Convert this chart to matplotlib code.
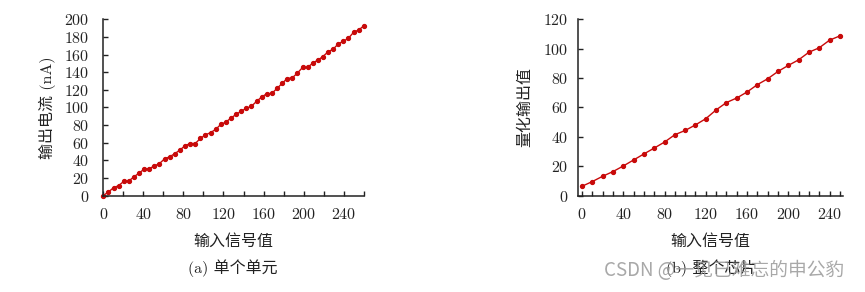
import matplotlib
matplotlib.use("Agg")
import matplotlib.pyplot as plt
from matplotlib.ticker import MultipleLocator

# ---- data ----
x_left = [round(i * 5.1, 1) for i in range(52)]
y_left = [0, 4, 8.8, 11.2, 16, 16.5, 21.2, 25.4, 30, 30.5,
          33.5, 36.3, 41.6, 44, 47.5, 51.6, 56.5, 59, 59, 64.8,
          68.8, 71.4, 75, 80.7, 83.3, 88, 92, 95.7, 99, 101.3,
          106.8, 111.8, 115.5, 115.9, 121.5, 127.2, 132.8, 133.6, 138.9, 145.3,
          145.3, 150.3, 153.7, 157.7, 163.1, 166.1, 172.1, 175.1, 178.5, 185.3,
          187.9, 192.5]

x_right = [0, 10, 20, 30, 40, 50, 60, 70, 80, 90, 100, 110, 120,
           130, 140, 150, 160, 170, 180, 190, 200, 210, 220, 230, 240, 250]
y_right = [6.3, 9.5, 13.1, 16.3, 20.1, 24.2, 28.3, 32.3, 36.4, 41.4, 44.3, 48.1, 52.3,
           58.3, 63.3, 66.4, 70.5, 75.5, 79.5, 84.5, 88.6, 92.4, 97.6, 100.6, 105.8, 108.7]

xlabel = "输入信号值"
ylabel_left = "输出电流 (nA)"
ylabel_right = "量化输出值"
caption_left = "(a) 单个单元"
caption_right = "(b) 整个芯片"
watermark = "CSDN @一见已难忘的申公豹"

FAM = ['cmr10', 'Noto Sans CJK SC', 'DejaVu Serif']
plt.rcParams['font.family'] = FAM
plt.rcParams['axes.formatter.use_mathtext'] = True

RED = '#c80a0a'
fig = plt.figure(figsize=(8.65, 2.92), dpi=100)

ax1 = fig.add_axes([103.3 / 865, (292 - 195.5) / 292, 260.4 / 865, 176.2 / 292])
ax2 = fig.add_axes([578 / 865, (292 - 195.5) / 292, 265 / 865, 176.2 / 292])

def style(ax, xmaj, xmin, ymaj, ypad):
    for s in ['top', 'right']:
        ax.spines[s].set_visible(False)
    for s in ['left', 'bottom']:
        ax.spines[s].set_linewidth(1.1)
        ax.spines[s].set_color('#222222')
    ax.xaxis.set_major_locator(MultipleLocator(xmaj))
    ax.xaxis.set_minor_locator(MultipleLocator(xmin))
    ax.yaxis.set_major_locator(MultipleLocator(ymaj))
    ax.tick_params(which='both', direction='in', length=3.5, width=1.0,
                   labelsize=11.5, color='#222222', labelcolor='#222222')
    ax.tick_params(axis='x', pad=8)
    ax.tick_params(axis='y', pad=ypad)

ax1.plot(x_left, y_left, '-o', color=RED, lw=1.0, ms=2.8, clip_on=False)
ax1.set_xlim(0, 260)
ax1.set_ylim(0, 200)
style(ax1, 40, 20, 20, 10)
ax1.set_xlabel(xlabel, fontsize=11.5, labelpad=9, color='#222222')
ax1.set_ylabel(ylabel_left, fontsize=11.5, labelpad=6, color='#222222')

ax2.plot(x_right, y_right, '-o', color=RED, lw=1.0, ms=2.8, clip_on=False)
ax2.set_xlim(-3.9, 253)
ax2.set_ylim(0, 120)
style(ax2, 40, 10, 20, 7)
ax2.set_xlabel(xlabel, fontsize=11.5, labelpad=9, color='#222222')
ax2.set_ylabel(ylabel_right, fontsize=11.5, labelpad=8, color='#222222')

fig.text(233 / 865, 1 - 268 / 292, caption_left, ha='center', va='center',
         fontsize=11.5, color='#222222')
fig.text(711 / 865, 1 - 268 / 292, caption_right, ha='center', va='center',
         fontsize=11.5, color='#222222')
fig.text(724 / 865, 1 - 270 / 292, watermark, ha='center', va='center',
         fontsize=13.5, color='#999999', alpha=0.85,
         family=['Noto Sans CJK SC', 'DejaVu Sans'])

fig.savefig('out.png', dpi=100)
